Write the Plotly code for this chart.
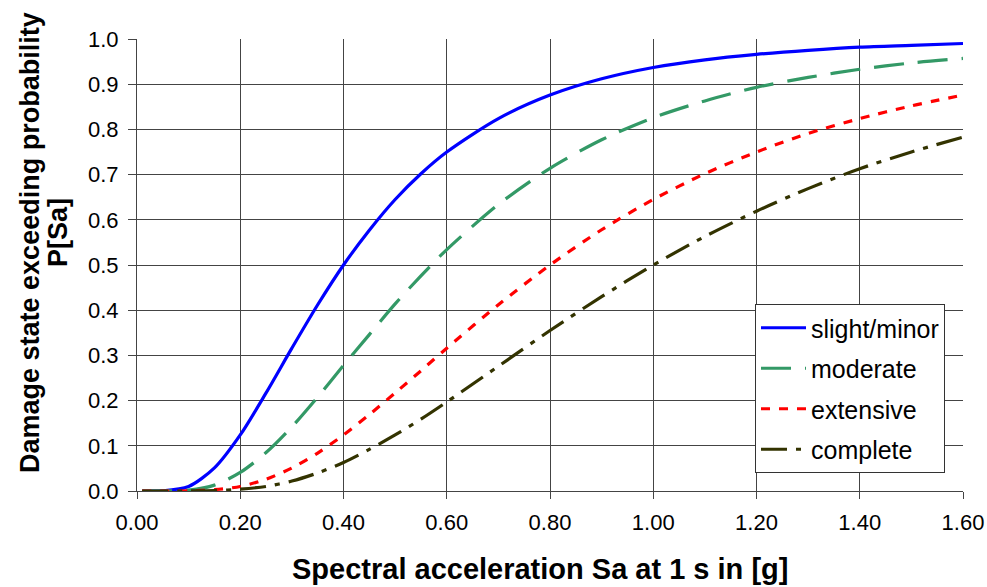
import plotly.graph_objects as go

sa = [0.01, 0.05, 0.10, 0.15, 0.20, 0.25, 0.30, 0.35, 0.40, 0.45, 0.50, 0.55,
      0.60, 0.70, 0.80, 0.90, 1.00, 1.10, 1.20, 1.30, 1.40, 1.50, 1.60]

slight = [0.000, 0.0003, 0.010, 0.051, 0.124, 0.217, 0.316, 0.412, 0.500, 0.577, 0.645, 0.702,
          0.750, 0.824, 0.876, 0.912, 0.937, 0.954, 0.966, 0.975, 0.982, 0.986, 0.990]
moderate = [0.000, 0.000, 0.002, 0.013, 0.041, 0.085, 0.142, 0.208, 0.278, 0.346, 0.414, 0.476,
            0.534, 0.634, 0.714, 0.777, 0.826, 0.863, 0.893, 0.915, 0.933, 0.947, 0.957]
extensive = [0.000, 0.000, 0.0003, 0.003, 0.010, 0.026, 0.051, 0.084, 0.124, 0.169, 0.217, 0.266,
             0.316, 0.412, 0.500, 0.578, 0.645, 0.702, 0.750, 0.791, 0.824, 0.852, 0.876]
complete = [0.000, 0.000, 0.0001, 0.001, 0.004, 0.010, 0.022, 0.040, 0.063, 0.092, 0.124, 0.159,
            0.197, 0.276, 0.355, 0.430, 0.500, 0.563, 0.619, 0.669, 0.713, 0.750, 0.783]

names = ["slight/minor", "moderate", "extensive", "complete"]
colors = ["#0000FF", "#339966", "#FF0000", "#333300"]
dashes = ["solid", "30px,14px", "9px,9px", "26px,9px,5px,9px"]
series = [slight, moderate, extensive, complete]

x_ticks = [0.0, 0.2, 0.4, 0.6, 0.8, 1.0, 1.2, 1.4, 1.6]
y_ticks = [0.0, 0.1, 0.2, 0.3, 0.4, 0.5, 0.6, 0.7, 0.8, 0.9, 1.0]

FONT = "Liberation Sans, Arial, sans-serif"

fig = go.Figure()
for i, (n, c, d, s) in enumerate(zip(names, colors, dashes, series)):
    fig.add_trace(go.Scatter(
        x=sa, y=s, name=n, mode="lines", legendgroup=f"g{i}",
        line=dict(color=c, width=3.2, dash=d, shape="spline", smoothing=0.8),
    ))

# plot area: left 137, right 963, top 39, bottom 491 (px)
L, R, T, B = 137, 963, 39, 491
W, H = R - L, B - T

def px(xp):
    return (xp - L) / W

def py(yp):
    return (B - yp) / H

fig.update_layout(
    width=987, height=587,
    margin=dict(l=L, r=987 - R, t=T, b=587 - B),
    paper_bgcolor="white", plot_bgcolor="white",
    font=dict(family=FONT, color="black", size=22),
    showlegend=True,
    legend=dict(
        x=px(945), y=py(473), xanchor="right", yanchor="bottom",
        bgcolor="white", bordercolor="#333333", borderwidth=1,
        font=dict(size=25, color="black"),
        tracegroupgap=5, itemwidth=45,
    ),
    xaxis=dict(
        range=[0, 1.6], tickvals=x_ticks, ticktext=[f"{v:.2f}" for v in x_ticks],
        showgrid=True, gridcolor="#444444", gridwidth=1,
        showline=True, linecolor="#444444", linewidth=1,
        ticks="outside", ticklen=7, tickcolor="#444444",
        zeroline=False, automargin=False,
        tickfont=dict(size=22), ticklabelstandoff=5,
    ),
    yaxis=dict(
        range=[0, 1.0], tickvals=y_ticks, ticktext=[f"{v:.1f}" for v in y_ticks],
        showgrid=True, gridcolor="#444444", gridwidth=1,
        showline=True, linecolor="#444444", linewidth=1,
        ticks="outside", ticklen=8, tickcolor="#444444",
        zeroline=False, automargin=False,
        tickfont=dict(size=22), ticklabelstandoff=5,
    ),
    annotations=[
        dict(text="<b>Spectral acceleration Sa at 1 s in [g]</b>",
             xref="paper", yref="paper", x=px(540), y=py(569),
             xanchor="center", yanchor="middle", showarrow=False,
             font=dict(size=29, family=FONT)),
        dict(text="<b>Damage state exceeding probability</b>",
             xref="paper", yref="paper", x=px(30), y=py(243),
             xanchor="center", yanchor="middle", showarrow=False, textangle=-90,
             font=dict(size=27, family=FONT)),
        dict(text="<b>P[Sa]</b>",
             xref="paper", yref="paper", x=px(58), y=py(233),
             xanchor="center", yanchor="middle", showarrow=False, textangle=-90,
             font=dict(size=27, family=FONT)),
    ],
)

fig.write_html("out.html", config={"displayModeBar": False},
               post_script="document.body.style.margin='0';")
